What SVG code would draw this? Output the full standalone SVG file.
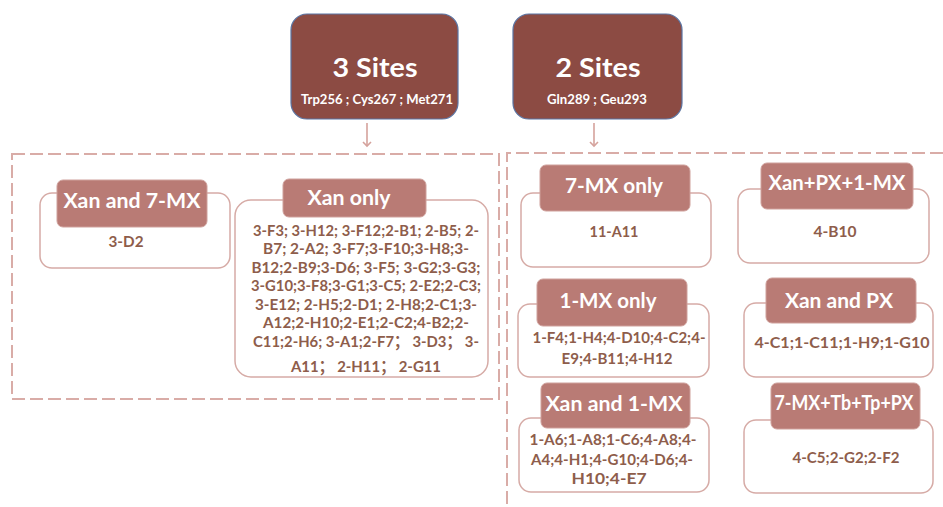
<svg xmlns="http://www.w3.org/2000/svg" width="943" height="507" viewBox="0 0 943 507">
<defs>
<style>
.site{fill:#8C4B43;stroke:#5A74A3;stroke-width:1.2}
.title{font-family:Lato,"Open Sans","Liberation Sans",sans-serif;font-weight:bold;fill:#ffffff;text-anchor:middle}
.outer{fill:#ffffff;stroke:#D6ABA6;stroke-width:1.5}
.head{fill:#B97B75;stroke:#CFA19C;stroke-width:1}
.ht{font-family:Lato,"Open Sans","Liberation Sans",sans-serif;font-weight:bold;font-size:21px;fill:#ffffff;text-anchor:middle}
.vt{font-family:Lato,"Open Sans","Liberation Sans","Noto Sans CJK SC",sans-serif;font-weight:bold;font-size:15.5px;fill:#8E5D4B;text-anchor:middle}
.dash{fill:none;stroke:#D9ACA7;stroke-width:2;stroke-dasharray:13 5}
.arr{stroke:#D5A29C;stroke-width:1.6;fill:none}
</style>
<marker id="ah" markerWidth="10" markerHeight="10" refX="5" refY="5" orient="auto" markerUnits="userSpaceOnUse">
<path d="M1,1 L5,5 L1,9" fill="none" stroke="#D5A29C" stroke-width="1.6"/>
</marker>
</defs>
<rect width="943" height="507" fill="#ffffff"/>

<g id="containers">
<rect class="dash" x="12" y="154" width="487" height="245"/>
<path class="dash" d="M943,153 L507,153 L507,507"/>
</g>

<g id="connectors">
<line class="arr" x1="367" y1="123" x2="367" y2="146" marker-end="url(#ah)"/>
<line class="arr" x1="594" y1="123" x2="594" y2="146" marker-end="url(#ah)"/>
</g>

<g id="site3">
<rect class="site" x="291" y="14" width="167" height="105" rx="16"/>
<text class="title" x="375" y="77" font-size="27" textLength="85" lengthAdjust="spacingAndGlyphs">3 Sites</text>
<text class="title" x="377" y="104" font-size="13" textLength="152" lengthAdjust="spacingAndGlyphs">Trp256 ; Cys267 ; Met271</text>
</g>

<g id="site2">
<rect class="site" x="513" y="14" width="169" height="105" rx="16"/>
<text class="title" x="598" y="77" font-size="27" textLength="85" lengthAdjust="spacingAndGlyphs">2 Sites</text>
<text class="title" x="597" y="104" font-size="13" textLength="100" lengthAdjust="spacingAndGlyphs">Gln289 ; Geu293</text>
</g>

<g id="xan-7mx">
<rect class="outer" x="40" y="193" width="190" height="75" rx="12"/>
<rect class="head" x="57" y="180" width="150" height="47" rx="6"/>
<text class="ht" x="132" y="208" textLength="137" lengthAdjust="spacingAndGlyphs">Xan and 7-MX</text>
<text class="vt" x="126" y="247" textLength="35" lengthAdjust="spacingAndGlyphs">3-D2</text>
</g>

<g id="xan-only">
<rect class="outer" x="235" y="200" width="253" height="177" rx="16"/>
<rect class="head" x="283" y="179" width="143" height="38" rx="6"/>
<text class="ht" x="349" y="205" textLength="83" lengthAdjust="spacingAndGlyphs">Xan only</text>
<text class="vt" x="366" y="236" textLength="226" lengthAdjust="spacingAndGlyphs">3-F3; 3-H12; 3-F12;2-B1; 2-B5; 2-</text>
<text class="vt" x="366" y="254" textLength="206" lengthAdjust="spacingAndGlyphs">B7; 2-A2; 3-F7;3-F10;3-H8;3-</text>
<text class="vt" x="366" y="273" textLength="229" lengthAdjust="spacingAndGlyphs">B12;2-B9;3-D6; 3-F5; 3-G2;3-G3;</text>
<text class="vt" x="366" y="291" textLength="230" lengthAdjust="spacingAndGlyphs">3-G10;3-F8;3-G1;3-C5; 2-E2;2-C3;</text>
<text class="vt" x="366" y="310" textLength="222" lengthAdjust="spacingAndGlyphs">3-E12; 2-H5;2-D1; 2-H8;2-C1;3-</text>
<text class="vt" x="366" y="328" textLength="206" lengthAdjust="spacingAndGlyphs">A12;2-H10;2-E1;2-C2;4-B2;2-</text>
<text class="vt" x="366" y="347" textLength="226" lengthAdjust="spacingAndGlyphs">C11;2-H6; 3-A1;2-F7； 3-D3； 3-</text>
<text class="vt" x="366" y="372" textLength="150" lengthAdjust="spacingAndGlyphs">A11； 2-H11； 2-G11</text>
</g>

<g id="mx7-only">
<rect class="outer" x="521" y="193" width="190" height="74" rx="12"/>
<rect class="head" x="540" y="165" width="150" height="46" rx="6"/>
<text class="ht" x="614" y="193" textLength="98" lengthAdjust="spacingAndGlyphs">7-MX only</text>
<text class="vt" x="614" y="237" textLength="49" lengthAdjust="spacingAndGlyphs">11-A11</text>
</g>

<g id="xan-px-1mx">
<rect class="outer" x="738" y="189" width="191" height="74" rx="12"/>
<rect class="head" x="761" y="163" width="152" height="46" rx="6"/>
<text class="ht" x="837" y="190" textLength="137" lengthAdjust="spacingAndGlyphs">Xan+PX+1-MX</text>
<text class="vt" x="835" y="237" textLength="43" lengthAdjust="spacingAndGlyphs">4-B10</text>
</g>

<g id="mx1-only">
<rect class="outer" x="518" y="304" width="191" height="73" rx="12"/>
<rect class="head" x="537" y="279" width="150" height="47" rx="6"/>
<text class="ht" x="608" y="308" textLength="97" lengthAdjust="spacingAndGlyphs">1-MX only</text>
<text class="vt" x="619" y="343" textLength="173" lengthAdjust="spacingAndGlyphs">1-F4;1-H4;4-D10;4-C2;4-</text>
<text class="vt" x="617" y="364" textLength="111" lengthAdjust="spacingAndGlyphs">E9;4-B11;4-H12</text>
</g>

<g id="xan-px">
<rect class="outer" x="744" y="303" width="189" height="74" rx="12"/>
<rect class="head" x="766" y="278" width="150" height="45" rx="6"/>
<text class="ht" x="839" y="308" textLength="108" lengthAdjust="spacingAndGlyphs">Xan and PX</text>
<text class="vt" x="842" y="348" textLength="175" lengthAdjust="spacingAndGlyphs">4-C1;1-C11;1-H9;1-G10</text>
</g>

<g id="xan-1mx">
<rect class="outer" x="519" y="418" width="190" height="74" rx="12"/>
<rect class="head" x="541" y="383" width="149" height="45" rx="6"/>
<text class="ht" x="614" y="411" textLength="137" lengthAdjust="spacingAndGlyphs">Xan and 1-MX</text>
<text class="vt" x="613" y="445" textLength="167" lengthAdjust="spacingAndGlyphs">1-A6;1-A8;1-C6;4-A8;4-</text>
<text class="vt" x="612" y="465" textLength="162" lengthAdjust="spacingAndGlyphs">A4;4-H1;4-G10;4-D6;4-</text>
<text class="vt" x="609" y="484" textLength="75" lengthAdjust="spacingAndGlyphs">H10;4-E7</text>
</g>

<g id="mx7-tb-tp-px">
<rect class="outer" x="744" y="420" width="189" height="73" rx="12"/>
<rect class="head" x="771" y="383" width="149" height="46" rx="6"/>
<text class="ht" x="844" y="410" textLength="139" lengthAdjust="spacingAndGlyphs">7-MX+Tb+Tp+PX</text>
<text class="vt" x="846" y="463" textLength="107" lengthAdjust="spacingAndGlyphs">4-C5;2-G2;2-F2</text>
</g>
</svg>
